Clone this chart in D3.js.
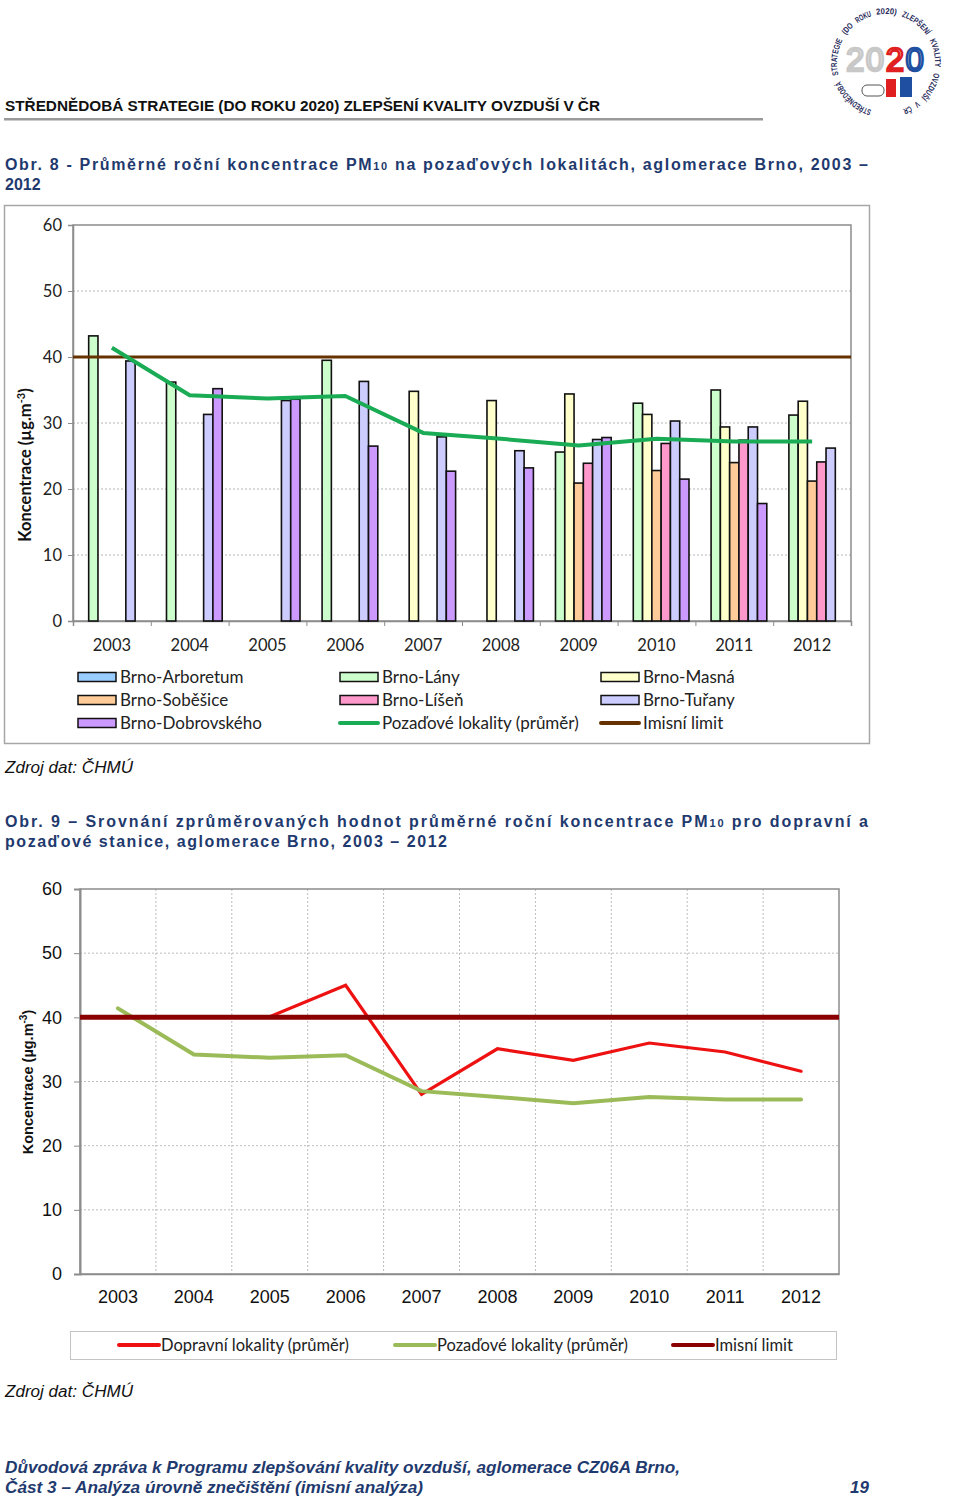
<!DOCTYPE html>
<html>
<head>
<meta charset="utf-8">
<script src="https://cdn.jsdelivr.net/npm/d3@7"></script>
<style>
  body { margin: 0; background: #fff; }
  svg { display: block; }
</style>
</head>
<body>
<div id="page"></div>
<script>
// data - roky a serie
const years = ["2003", "2004", "2005", "2006", "2007", "2008", "2009", "2010", "2011", "2012"];
const yTicks = [0, 10, 20, 30, 40, 50, 60];

const arboretum   = [null, null, null, null, null, null, null, null, null, null];
const lany        = [43.2, 36.2, null, 39.5, null, null, 25.6, 33.0, 35.0, 31.2];
const masna       = [null, null, null, null, 34.8, 33.4, 34.4, 31.3, 29.4, 33.3];
const sobesice    = [null, null, null, null, null, null, 20.9, 22.8, 24.0, 21.2];
const lisen       = [null, null, null, null, null, null, 23.9, 26.9, 27.4, 24.1];
const turany      = [39.4, 31.3, 33.4, 36.3, 27.9, 25.8, 27.5, 30.3, 29.4, 26.2];
const dobrovskeho = [null, 35.2, 33.6, 26.5, 22.7, 23.2, 27.8, 21.5, 17.8, null];

const pozadove = [41.4, 34.2, 33.7, 34.1, 28.5, 27.6, 26.6, 27.6, 27.2, 27.2];
const dopravni = [40.0, 40.0, 40.1, 45.0, 28.0, 35.1, 33.3, 36.0, 34.6, 31.6];
const limit    = [40, 40, 40, 40, 40, 40, 40, 40, 40, 40];

const barSeries = [
  { name: "Brno-Arboretum", values: arboretum, color: "#99ccff" },
  { name: "Brno-Lány", values: lany, color: "#ccffcc" },
  { name: "Brno-Masná", values: masna, color: "#ffffcc" },
  { name: "Brno-Soběšice", values: sobesice, color: "#ffcc99" },
  { name: "Brno-Líšeň", values: lisen, color: "#ff99cc" },
  { name: "Brno-Tuřany", values: turany, color: "#ccccff" },
  { name: "Brno-Dobrovského", values: dobrovskeho, color: "#cc99ff" }
];

const W = 960, H = 1498;
const svg = d3.select("#page").append("svg").attr("width", W).attr("height", H);

const blue = "#1f3a6e";
const calibri = "Lato, 'Open Sans', sans-serif";
const arial = "'Liberation Sans', Arial, sans-serif";

// ---------- hlavicka ----------
svg.append("text")
  .attr("x", 5).attr("y", 111)
  .attr("font-family", arial).attr("font-weight", "bold").attr("font-size", 14)
  .attr("fill", "#111")
  .attr("textLength", 595).attr("lengthAdjust", "spacingAndGlyphs")
  .text("STŘEDNĚDOBÁ STRATEGIE (DO ROKU 2020) ZLEPŠENÍ KVALITY OVZDUŠÍ V ČR");
svg.append("rect").attr("x", 4).attr("y", 118).attr("width", 759).attr("height", 2.5).attr("fill", "#9a9a9a");

// logo (zjednodusene) - text po kruhu, po slovech
const lcx = 886, lcy = 63, r = 49, gapA = 0.3;
svg.append("defs").append("path")
  .attr("id", "logoArc")
  .attr("d", `M ${lcx - r * Math.sin(gapA)},${lcy + r * Math.cos(gapA)} A ${r},${r} 0 1,1 ${lcx + r * Math.sin(gapA)},${lcy + r * Math.cos(gapA)}`);
const ringText = "STŘEDNĚDOBÁ STRATEGIE (DO ROKU 2020) ZLEPŠENÍ KVALITY OVZDUŠÍ V ČR";
const arcLen = 2 * r * (Math.PI - gapA) * 0.99;
const perChar = arcLen / ringText.length;
let pos = 0;
ringText.split(" ").forEach(w => {
  svg.append("text")
    .attr("font-family", arial).attr("font-weight", "bold").attr("font-size", 8.5)
    .attr("fill", "#1f2a5a")
    .append("textPath").attr("href", "#logoArc")
    .attr("startOffset", pos * perChar)
    .attr("textLength", w.length * perChar * 0.95).attr("lengthAdjust", "spacingAndGlyphs")
    .text(w);
  pos += w.length + 1;
});
const logo = svg.append("g").attr("transform", `translate(${lcx},${lcy})`);
const digits = [["2", "#c8c8c8"], ["0", "#c8c8c8"], ["2", "#e02020"], ["0", "#1f4fa0"]];
const dt = logo.append("text").attr("x", -40).attr("y", 8)
  .attr("font-family", arial).attr("font-size", 33).attr("fill", "none")
  .attr("stroke-width", 2.5).attr("letter-spacing", 1.5);
digits.forEach(d => dt.append("tspan").attr("stroke", d[1]).text(d[0]));
logo.append("rect").attr("x", 0).attr("y", 16).attr("width", 10).attr("height", 18).attr("fill", "#e02020");
logo.append("rect").attr("x", 14).attr("y", 14).attr("width", 12).attr("height", 20).attr("fill", "#1f4fa0");
logo.append("rect").attr("x", -24).attr("y", 22).attr("width", 22).attr("height", 11).attr("rx", 5)
  .attr("fill", "none").attr("stroke", "#555").attr("stroke-width", 1);

// ---------- titulky ----------
function title(lines, y0) {
  lines.forEach((l, i) => {
    const t = svg.append("text")
      .attr("x", 5).attr("y", y0 + i * 19.5)
      .attr("font-family", arial).attr("font-weight", "bold").attr("font-size", 16)
      .attr("fill", blue);
    if (l.len) t.attr("textLength", l.len).attr("lengthAdjust", "spacing");
    l.parts.forEach(p => {
      const s = t.append("tspan").text(p.t);
      if (p.sub) s.attr("font-size", 11);
    });
  });
}
title([
  { parts: [{ t: "Obr. 8 - Průměrné roční koncentrace PM" }, { t: "10", sub: true }, { t: " na pozaďových lokalitách, aglomerace Brno, 2003 –" }], len: 863 },
  { parts: [{ t: "2012" }] }
], 170);
title([
  { parts: [{ t: "Obr. 9 – Srovnání zprůměrovaných hodnot průměrné roční koncentrace PM" }, { t: "10", sub: true }, { t: " pro dopravní a" }], len: 863 },
  { parts: [{ t: "pozaďové stanice, aglomerace Brno, 2003 – 2012" }], len: 442 }
], 827);

function zdroj(y) {
  svg.append("text").attr("x", 5).attr("y", y)
    .attr("font-family", arial).attr("font-style", "italic").attr("font-size", 16)
    .attr("fill", "#111")
    .attr("textLength", 128).attr("lengthAdjust", "spacingAndGlyphs")
    .text("Zdroj dat: ČHMÚ");
}
zdroj(773);
zdroj(1397);

// ---------- graf 1 ----------
svg.append("rect").attr("x", 4.5).attr("y", 205.5).attr("width", 865).attr("height", 538)
  .attr("fill", "#fff").attr("stroke", "#a6a6a6").attr("stroke-width", 1.5);

const m1 = { left: 73, right: 851, top: 225, bottom: 621 };
const x1 = d3.scaleBand().domain(years).range([m1.left, m1.right]).padding(0);
const xs1 = d3.scaleBand().domain(barSeries.map(s => s.name))
  .range([6.4, x1.bandwidth() - 6.4]).padding(0);
const y1 = d3.scaleLinear().domain([0, 60]).range([m1.bottom, m1.top]);
const g1 = svg.append("g");

// mrizka
g1.selectAll(".grid1").data(yTicks.slice(1, -1)).enter().append("line")
  .attr("x1", m1.left).attr("x2", m1.right)
  .attr("y1", d => y1(d)).attr("y2", d => y1(d))
  .attr("stroke", "#b4b4b4").attr("stroke-dasharray", "2,2");
g1.append("rect").attr("x", m1.left).attr("y", m1.top)
  .attr("width", m1.right - m1.left).attr("height", m1.bottom - m1.top)
  .attr("fill", "none").attr("stroke", "#8c8c8c").attr("stroke-width", 1.5);

// osa y
g1.append("g").attr("transform", `translate(${m1.left},0)`)
  .call(d3.axisLeft(y1).tickValues(yTicks).tickSize(5).tickPadding(6))
  .call(a => a.select(".domain").attr("stroke", "#8c8c8c").attr("stroke-width", 1.5))
  .call(a => a.selectAll("line").attr("stroke", "#8c8c8c"))
  .call(a => a.selectAll("text").attr("font-family", calibri).attr("font-size", 16.5).attr("fill", "#222").attr("dy", "0.35em"));

// osa x - znacky na hranicich kategorii
const xi1 = d3.scaleLinear().domain([0, years.length]).range([m1.left, m1.right]);
g1.append("g").attr("transform", `translate(0,${m1.bottom})`)
  .call(d3.axisBottom(xi1).tickValues(d3.range(0, years.length + 1)).tickSize(5).tickFormat(""))
  .call(a => a.select(".domain").attr("stroke", "#8c8c8c").attr("stroke-width", 1.5))
  .call(a => a.selectAll("line").attr("stroke", "#8c8c8c"));
g1.append("g").attr("transform", `translate(0,${m1.bottom})`)
  .call(d3.axisBottom(x1).tickSize(0).tickPadding(18))
  .call(a => a.select(".domain").remove())
  .call(a => a.selectAll("text").attr("font-family", calibri).attr("font-size", 16.5).attr("fill", "#222"));

// sloupce
barSeries.forEach(s => {
  g1.append("g").selectAll("rect")
    .data(years.map((yr, i) => ({ yr, v: s.values[i] })).filter(d => d.v !== null))
    .enter().append("rect")
    .attr("x", d => x1(d.yr) + xs1(s.name))
    .attr("y", d => y1(d.v))
    .attr("width", xs1.bandwidth())
    .attr("height", d => y1(0) - y1(d.v))
    .attr("fill", s.color).attr("stroke", "#111").attr("stroke-width", 1.6);
});

// limit a prumer
g1.append("path").datum(limit)
  .attr("d", d3.line().x((d, i) => i === 0 ? m1.left : i === limit.length - 1 ? m1.right : x1(years[i]) + x1.bandwidth() / 2).y(d => y1(d)))
  .attr("fill", "none").attr("stroke", "#663300").attr("stroke-width", 3.2);
g1.append("path").datum(pozadove)
  .attr("d", d3.line().x((d, i) => x1(years[i]) + x1.bandwidth() / 2).y(d => y1(d)))
  .attr("fill", "none").attr("stroke", "#1aab55").attr("stroke-width", 4).attr("stroke-linejoin", "round");

// popisek osy y
const yl1 = svg.append("text")
  .attr("transform", `translate(31,465) rotate(-90)`)
  .attr("text-anchor", "middle")
  .attr("font-family", calibri).attr("font-weight", "bold").attr("font-size", 16.5).attr("fill", "#111");
yl1.append("tspan").text("Koncentrace (µg.m");
yl1.append("tspan").attr("font-size", 11).attr("dy", -6).text("-3");
yl1.append("tspan").attr("dy", 6).text(")");

// legenda 1
const leg1 = [
  { name: "Brno-Arboretum", type: "bar", color: "#99ccff" },
  { name: "Brno-Lány", type: "bar", color: "#ccffcc" },
  { name: "Brno-Masná", type: "bar", color: "#ffffcc" },
  { name: "Brno-Soběšice", type: "bar", color: "#ffcc99" },
  { name: "Brno-Líšeň", type: "bar", color: "#ff99cc" },
  { name: "Brno-Tuřany", type: "bar", color: "#ccccff" },
  { name: "Brno-Dobrovského", type: "bar", color: "#cc99ff" },
  { name: "Pozaďové lokality (průměr)", type: "line", color: "#1aab55" },
  { name: "Imisní limit", type: "line", color: "#663300" }
];
const colX = [78, 340, 601], rowY = [677, 700, 723];
leg1.forEach((d, i) => {
  const cx = colX[i % 3], cy = rowY[Math.floor(i / 3)];
  if (d.type === "bar") {
    svg.append("rect").attr("x", cx).attr("y", cy - 4.5).attr("width", 38).attr("height", 9)
      .attr("fill", d.color).attr("stroke", "#111").attr("stroke-width", 1.5);
  } else {
    svg.append("line").attr("x1", cx).attr("x2", cx + 38).attr("y1", cy).attr("y2", cy)
      .attr("stroke", d.color).attr("stroke-width", 4).attr("stroke-linecap", "round");
  }
  svg.append("text").attr("x", cx + 42).attr("y", cy).attr("dy", "0.35em")
    .attr("font-family", calibri).attr("font-size", 17).attr("fill", "#222").text(d.name);
});

// ---------- graf 2 ----------
const m2 = { left: 80, right: 839, top: 889, bottom: 1274 };
const x2 = d3.scaleBand().domain(years).range([m2.left, m2.right]).padding(0);
const xi2 = d3.scaleLinear().domain([0, years.length]).range([m2.left, m2.right]);
const y2 = d3.scaleLinear().domain([0, 60]).range([m2.bottom, m2.top]);
const g2 = svg.append("g");

g2.selectAll(".gh").data(yTicks.slice(1, -1)).enter().append("line")
  .attr("x1", m2.left).attr("x2", m2.right)
  .attr("y1", d => y2(d)).attr("y2", d => y2(d))
  .attr("stroke", "#bdbdbd").attr("stroke-dasharray", "2,2");
g2.selectAll(".gv").data(d3.range(1, years.length)).enter().append("line")
  .attr("x1", d => xi2(d)).attr("x2", d => xi2(d))
  .attr("y1", m2.top).attr("y2", m2.bottom)
  .attr("stroke", "#bdbdbd").attr("stroke-dasharray", "2,2");
g2.append("rect").attr("x", m2.left).attr("y", m2.top)
  .attr("width", m2.right - m2.left).attr("height", m2.bottom - m2.top)
  .attr("fill", "none").attr("stroke", "#8c8c8c").attr("stroke-width", 1.5);

g2.append("g").attr("transform", `translate(${m2.left},0)`)
  .call(d3.axisLeft(y2).tickValues(yTicks).tickSize(6).tickPadding(12))
  .call(a => a.select(".domain").attr("stroke", "#8c8c8c").attr("stroke-width", 2))
  .call(a => a.selectAll("line").attr("stroke", "#8c8c8c"))
  .call(a => a.selectAll("text").attr("font-family", arial).attr("font-size", 18).attr("fill", "#111"));
g2.append("g").attr("transform", `translate(0,${m2.bottom})`)
  .call(d3.axisBottom(x2).tickSize(0).tickPadding(16))
  .call(a => a.select(".domain").attr("stroke", "#8c8c8c").attr("stroke-width", 1.5))
  .call(a => a.selectAll("text").attr("font-family", arial).attr("font-size", 18).attr("fill", "#111"));

const line2 = d3.line().x((d, i) => x2(years[i]) + x2.bandwidth() / 2).y(d => y2(d));
g2.append("path").datum(dopravni).attr("d", line2)
  .attr("fill", "none").attr("stroke", "#ee1111").attr("stroke-width", 3.2).attr("stroke-linecap", "round");
g2.append("path").datum(pozadove).attr("d", line2)
  .attr("fill", "none").attr("stroke", "#9bbb59").attr("stroke-width", 4).attr("stroke-linecap", "round");
g2.append("path").datum(limit)
  .attr("d", d3.line().x((d, i) => i === 0 ? m2.left : i === limit.length - 1 ? m2.right : x2(years[i]) + x2.bandwidth() / 2).y(d => y2(d)))
  .attr("fill", "none").attr("stroke", "#8b0000").attr("stroke-width", 5);

const yl2 = svg.append("text")
  .attr("transform", `translate(33,1082) rotate(-90)`)
  .attr("text-anchor", "middle")
  .attr("font-family", arial).attr("font-weight", "bold").attr("font-size", 14.5).attr("fill", "#111");
yl2.append("tspan").text("Koncentrace (µg.m");
yl2.append("tspan").attr("font-size", 10).attr("dy", -6).text("-3");
yl2.append("tspan").attr("dy", 6).text(")");

// legenda 2
svg.append("rect").attr("x", 70.5).attr("y", 1331.5).attr("width", 766).attr("height", 28)
  .attr("fill", "#fff").attr("stroke", "#c4c4c4");
const leg2 = [
  { name: "Dopravní lokality (průměr)", color: "#ee1111", x: 119 },
  { name: "Pozaďové lokality (průměr)", color: "#9bbb59", x: 395 },
  { name: "Imisní limit", color: "#8b0000", x: 673 }
];
leg2.forEach(d => {
  svg.append("line").attr("x1", d.x).attr("x2", d.x + 40).attr("y1", 1345).attr("y2", 1345)
    .attr("stroke", d.color).attr("stroke-width", 4).attr("stroke-linecap", "round");
  svg.append("text").attr("x", d.x + 42).attr("y", 1345).attr("dy", "0.35em")
    .attr("font-family", calibri).attr("font-size", 16.5).attr("fill", "#222").text(d.name);
});

// ---------- paticka ----------
const foot = [
  { t: "Důvodová zpráva k Programu zlepšování kvality ovzduší, aglomerace CZ06A Brno,", y: 1473, len: 675 },
  { t: "Část 3 – Analýza úrovně znečištění (imisní analýza)", y: 1493, len: 418 }
];
foot.forEach(f => {
  svg.append("text").attr("x", 5).attr("y", f.y)
    .attr("font-family", arial).attr("font-weight", "bold").attr("font-style", "italic").attr("font-size", 17)
    .attr("fill", blue).attr("textLength", f.len).attr("lengthAdjust", "spacingAndGlyphs").text(f.t);
});
svg.append("text").attr("x", 869).attr("y", 1493).attr("text-anchor", "end")
  .attr("font-family", arial).attr("font-weight", "bold").attr("font-style", "italic").attr("font-size", 17)
  .attr("fill", blue).text("19");
</script>
</body>
</html>
